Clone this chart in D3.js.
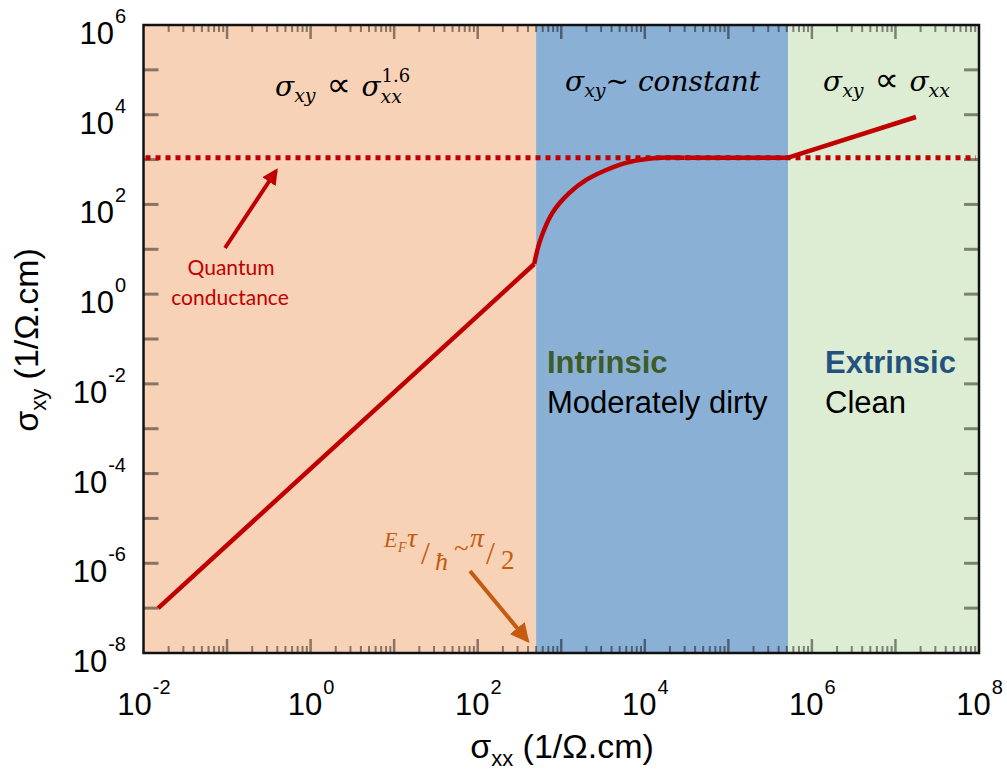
<!DOCTYPE html>
<html>
<head>
<meta charset="utf-8">
<script src="https://cdn.jsdelivr.net/npm/d3@7"></script>
<style>
  html, body { margin: 0; padding: 0; background: #ffffff; }
  svg { display: block; }
</style>
</head>
<body>
<svg id="chart" width="1007" height="771"></svg>
<script>
// Conduction regimes along sigma_xx (boundaries in 1/Ohm.cm)
const regimeBounds = [1e-2, 500, 5.2e5, 1e8];
const regimeColors = ["#F8D2B6", "#8BB0D6", "#DDEDD3"];

// Dirty regime: sigma_xy ∝ sigma_xx^1.6
const dirtyX = [0.015, 475];
const dirtyY = [1e-7, 4.7];

// Crossover into the intrinsic plateau (smooth bend)
const crossoverX = [475, 561, 780, 1250, 1990, 3450, 6500, 14900, 30000];
const crossoverY = [4.7, 16, 64, 180, 351, 586, 883, 1100, 1100];

// Intrinsic plateau
const plateauX = [30000, 5.2e5];
const plateauY = [1100, 1100];

// Clean regime: sigma_xy ∝ sigma_xx
const cleanX = [5.2e5, 1.76e7];
const cleanY = [1100, 8900];

// Quantum conductance level
const quantumLevel = 1100;

// Axis decades
const xDomain = [1e-2, 1e8];
const yDomain = [1e-8, 1e6];
const xLabelExps = [-2, 0, 2, 4, 6, 8];
const yLabelExps = [-8, -6, -4, -2, 0, 2, 4, 6];

const svg = d3.select("#chart");
const L = 143.5, R = 979, T = 25, B = 653;

const x = d3.scaleLog().domain(xDomain).range([L, R]);
const y = d3.scaleLog().domain(yDomain).range([B, T]);

// Regime backgrounds
const regions = d3.range(regimeColors.length).map(i => ({
  x0: regimeBounds[i], x1: regimeBounds[i + 1], color: regimeColors[i]
}));
svg.append("g").selectAll("rect").data(regions).join("rect")
  .attr("x", d => x(d.x0))
  .attr("y", T)
  .attr("width", d => x(d.x1) - x(d.x0))
  .attr("height", B - T)
  .attr("fill", d => d.color);

// Tick marks (mirrored on all four sides, pointing inward)
const tickColor = "rgba(0,0,0,0.45)";
const gTicks = svg.append("g");
const xMinor = [], xMajor = [];
for (let e = -2; e < 8; e++) {
  for (let m = 2; m <= 9; m++) xMinor.push(m * Math.pow(10, e));
  if (e > -2) xMajor.push(Math.pow(10, e));
}
const yMajor = d3.range(-7, 6).map(e => Math.pow(10, e));

function vTicks(vals, len, width) {
  [[B, -1], [T, 1]].forEach(([base, dir]) => {
    gTicks.append("g").selectAll("line").data(vals).join("line")
      .attr("x1", d => x(d)).attr("x2", d => x(d))
      .attr("y1", base).attr("y2", base + dir * len)
      .attr("stroke", tickColor).attr("stroke-width", width);
  });
}
vTicks(xMinor, 7, 2);
vTicks(xMajor, 14, 2.5);

[[L, 1], [R, -1]].forEach(([base, dir]) => {
  gTicks.append("g").selectAll("line").data(yMajor).join("line")
    .attr("x1", base).attr("x2", base + dir * 15)
    .attr("y1", d => y(d)).attr("y2", d => y(d))
    .attr("stroke", tickColor).attr("stroke-width", 3);
});

// Quantum conductance reference (dotted)
svg.append("line")
  .attr("x1", L + 2).attr("x2", R - 3)
  .attr("y1", y(quantumLevel)).attr("y2", y(quantumLevel))
  .attr("stroke", "#C00000").attr("stroke-width", 5)
  .attr("stroke-dasharray", "5,5");

// sigma_xy curve
const toPts = (xs, ys) => xs.map((v, i) => [x(v), y(ys[i])]);
const lineLin = d3.line().curve(d3.curveLinear);
const lineSmooth = d3.line().curve(d3.curveCatmullRom.alpha(0.5));
const gCurve = svg.append("g")
  .attr("fill", "none").attr("stroke", "#C00000")
  .attr("stroke-width", 4.5).attr("stroke-linejoin", "round");
gCurve.append("path").attr("d", lineLin(toPts(dirtyX, dirtyY)));
gCurve.append("path").attr("d", lineSmooth(toPts(crossoverX, crossoverY)));
gCurve.append("path").attr("d", lineLin(toPts(plateauX, plateauY)));
gCurve.append("path").attr("d", lineLin(toPts(cleanX, cleanY)));

// Frame
svg.append("rect")
  .attr("x", L).attr("y", T).attr("width", R - L).attr("height", B - T)
  .attr("fill", "none").attr("stroke", "#111").attr("stroke-width", 2.5);

// Axis tick labels: 10 with superscript exponent
const sans = "'Liberation Sans', Arial, sans-serif";
function powerLabel(g, e) {
  const t = g.append("text").attr("font-family", sans).attr("fill", "#000");
  t.append("tspan").attr("font-size", 31).text("10");
  t.append("tspan").attr("font-size", 20).attr("dy", -21).attr("dx", 1)
    .text(e < 0 ? "-" + (-e) : String(e));
  return t;
}
xLabelExps.forEach(e => {
  const g = svg.append("g");
  const t = powerLabel(g, e);
  const w = t.node().getComputedTextLength();
  t.attr("x", x(Math.pow(10, e)) - w / 2).attr("y", 715);
});
yLabelExps.forEach(e => {
  const g = svg.append("g");
  const t = powerLabel(g, e);
  const w = t.node().getComputedTextLength();
  t.attr("x", 125 - w).attr("y", y(Math.pow(10, e)) + 19);
});

// Axis titles
const xt = svg.append("text").attr("font-family", sans).attr("font-size", 34)
  .attr("text-anchor", "middle").attr("x", 562).attr("y", 758);
xt.append("tspan").text("σ");
xt.append("tspan").attr("font-size", 22).attr("dy", 8).text("xx");
xt.append("tspan").attr("dy", -8).text(" (1/Ω.cm)");

const yt = svg.append("text").attr("font-family", sans).attr("font-size", 34)
  .attr("text-anchor", "middle")
  .attr("transform", "translate(38,340) rotate(-90)");
yt.append("tspan").text("σ");
yt.append("tspan").attr("font-size", 22).attr("dy", 8).text("xy");
yt.append("tspan").attr("dy", -8).text(" (1/Ω.cm)");

// Scaling-law annotations (math italic)
const serif = "'DejaVu Serif', serif";
function mathText(x0, y0, parts) {
  const t = svg.append("text").attr("font-family", serif).attr("fill", "#000")
    .attr("x", x0).attr("y", y0);
  parts.forEach(p => {
    t.append("tspan")
      .attr("font-size", p.size || 28)
      .attr("font-family", p.family || null)
      .attr("font-style", p.upright ? "normal" : "italic")
      .attr("dy", p.dy || 0)
      .attr("dx", p.dx || 0)
      .text(p.s);
  });
  return t;
}
const prop = { s: " ∝ ", upright: true, size: 34, family: "'DejaVu Sans', sans-serif", dy: -6 };
const m1 = mathText(275, 96, [
  { s: "σ" }, { s: "xy", size: 19, dy: 6 }, prop, { s: "σ" }
]);
{
  const w = m1.node().getComputedTextLength();
  svg.append("text").attr("font-family", serif).attr("font-style", "italic")
    .attr("font-size", 19).attr("x", 275 + w).attr("y", 103).text("xx");
  svg.append("text").attr("font-family", serif).attr("font-size", 18)
    .attr("x", 275 + w + 1).attr("y", 82).text("1.6");
}
mathText(565, 91, [
  { s: "σ" }, { s: "xy", size: 19, dy: 6 }, { s: "~ constant", dy: -6 }
]);
mathText(823, 91, [
  { s: "σ" }, { s: "xy", size: 19, dy: 6 }, prop,
  { s: "σ" }, { s: "xx", size: 19, dy: 6 }
]);

// Arrow heads
const defs = svg.append("defs");
function arrowMarker(id, color, size) {
  defs.append("marker").attr("id", id)
    .attr("viewBox", "0 0 10 10").attr("refX", 8).attr("refY", 5)
    .attr("markerWidth", size).attr("markerHeight", size)
    .attr("markerUnits", "strokeWidth").attr("orient", "auto")
    .append("path").attr("d", "M0,0 L10,5 L0,10 Z").attr("fill", color);
}
arrowMarker("arrRed", "#C00000", 4);
arrowMarker("arrOrange", "#C55A11", 4.8);

// Quantum conductance pointer + label
svg.append("line").attr("x1", 225).attr("y1", 248).attr("x2", 276).attr("y2", 171)
  .attr("stroke", "#C00000").attr("stroke-width", 4)
  .attr("marker-end", "url(#arrRed)");
const qc = svg.append("text").attr("font-family", "Lato, sans-serif")
  .attr("font-size", 21).attr("fill", "#C00000").attr("text-anchor", "middle");
qc.append("tspan").attr("x", 231).attr("y", 275).text("Quantum");
qc.append("tspan").attr("x", 230).attr("y", 305).text("conductance");

// E_F tau / hbar ~ pi / 2 crossover condition
const orange = "#C55A11";
const fSerif = "'Liberation Serif', serif";
const efParts = [
  { s: "E", x: 384, y: 547, size: 22 },
  { s: "F", x: 398, y: 552, size: 14 },
  { s: "τ", x: 407, y: 547, size: 28 },
  { s: "/", x: 421, y: 564, size: 32, upright: true },
  { s: "ħ", x: 435, y: 570, size: 26 },
  { s: "~", x: 454, y: 557, size: 27, upright: true },
  { s: "π", x: 470, y: 547, size: 28 },
  { s: "/", x: 486, y: 564, size: 32, upright: true },
  { s: "2", x: 501, y: 569, size: 27, upright: true }
];
efParts.forEach(p => {
  svg.append("text").attr("font-family", fSerif).attr("fill", orange)
    .attr("font-style", p.upright ? "normal" : "italic")
    .attr("font-size", p.size).attr("x", p.x).attr("y", p.y).text(p.s);
});
svg.append("line").attr("x1", 470).attr("y1", 571).attr("x2", 527).attr("y2", 640)
  .attr("stroke", orange).attr("stroke-width", 4)
  .attr("marker-end", "url(#arrOrange)");

// Regime labels
function regimeLabel(x0, title, color, desc) {
  svg.append("text").attr("font-family", sans).attr("font-size", 31)
    .attr("font-weight", "bold").attr("fill", color)
    .attr("x", x0).attr("y", 373).text(title);
  svg.append("text").attr("font-family", sans).attr("font-size", 31)
    .attr("fill", "#000").attr("x", x0).attr("y", 413).text(desc);
}
regimeLabel(547, "Intrinsic", "#3D5C27", "Moderately dirty");
regimeLabel(825, "Extrinsic", "#24527F", "Clean");
</script>
</body>
</html>
